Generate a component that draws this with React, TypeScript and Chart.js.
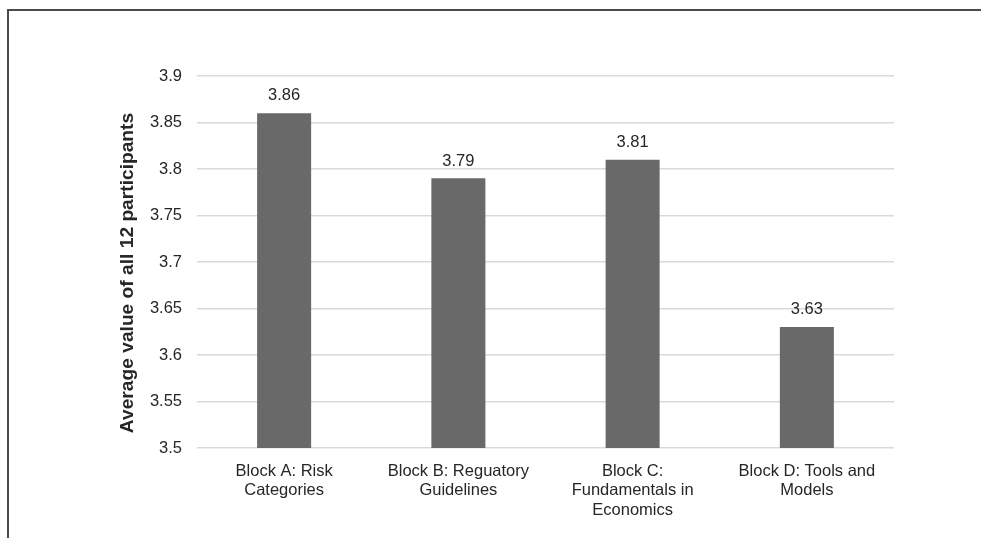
import React, { useEffect, useRef } from "react";
import { Chart, registerables } from "chart.js";

Chart.register(...registerables);

const categories: string[][] = [
  ["Block A: Risk", "Categories"],
  ["Block B: Reguatory", "Guidelines"],
  ["Block C:", "Fundamentals in", "Economics"],
  ["Block D: Tools and", "Models"],
];
const values: number[] = [3.86, 3.79, 3.81, 3.63];
const yMin = 3.5;
const yMax = 3.9;
const yStep = 0.05;
const yTitle = "Average value of all 12 participants";

const FONT = "'Liberation Sans', Arial, Helvetica, sans-serif";

const valueLabels = {
  id: "valueLabels",
  afterDatasetsDraw(chart: any) {
    const ctx = chart.ctx;
    const meta = chart.getDatasetMeta(0);
    ctx.save();
    ctx.font = `16.5px ${FONT}`;
    ctx.fillStyle = "#262626";
    ctx.textAlign = "center";
    ctx.textBaseline = "bottom";
    meta.data.forEach((el: any, i: number) => {
      ctx.fillText(values[i].toFixed(2), el.x, el.y - 9);
    });
    ctx.restore();
  },
};

const yTitlePlugin = {
  id: "yTitlePlugin",
  afterDraw(chart: any) {
    const ctx = chart.ctx;
    const area = chart.chartArea;
    ctx.save();
    ctx.translate(128, (area.top + area.bottom) / 2 + 11);
    ctx.rotate(-Math.PI / 2);
    ctx.font = `bold 19.2px ${FONT}`;
    ctx.fillStyle = "#262626";
    ctx.textAlign = "center";
    ctx.textBaseline = "middle";
    ctx.fillText(yTitle, 0, 0);
    ctx.restore();
  },
};

export default function App() {
  const ref = useRef<HTMLCanvasElement | null>(null);
  useEffect(() => {
    if (!ref.current) return;
    const chart = new Chart(ref.current, {
      type: "bar",
      data: {
        labels: categories,
        datasets: [
          {
            data: values,
            backgroundColor: "#696969",
            borderWidth: 0,
            categoryPercentage: 1,
            barPercentage: 0.31,
          },
        ],
      },
      options: {
        responsive: false,
        animation: false,
        layout: { padding: { left: 113, right: 87, top: 76, bottom: 0 } },
        plugins: { legend: { display: false }, tooltip: { enabled: false } },
        scales: {
          x: {
            grid: { display: false, drawTicks: false },
            border: { display: false },
            ticks: {
              color: "#262626",
              font: { family: FONT, size: 16.5, lineHeight: 1.21 },
              padding: 13,
              maxRotation: 0,
              autoSkip: false,
            },
            afterFit: (s: any) => {
              s.height = 90;
            },
          },
          y: {
            min: yMin,
            max: yMax,
            grid: { color: "#d9d9d9", lineWidth: 1.5, drawTicks: false },
            border: { display: false },
            ticks: {
              stepSize: yStep,
              color: "#262626",
              font: { family: FONT, size: 16.5 },
              padding: 15,
              callback: (v: any) => String(+Number(v).toFixed(2)),
            },
            title: { display: false },
            afterFit: (s: any) => {
              s.width = 84;
            },
          },
        },
      },
      plugins: [valueLabels, yTitlePlugin],
    });
    return () => chart.destroy();
  }, []);
  return (
    <div
      style={{
        position: "fixed",
        left: 0,
        top: 0,
        width: 981,
        height: 538,
        background: "#fff",
      }}
    >
      <canvas ref={ref} width={981} height={538} style={{ display: "block" }} />
      <div
        style={{
          position: "absolute",
          left: 7,
          top: 9,
          right: 0,
          bottom: 0,
          borderTop: "2px solid #4a4a4a",
          borderLeft: "2px solid #4a4a4a",
          pointerEvents: "none",
        }}
      />
    </div>
  );
}
